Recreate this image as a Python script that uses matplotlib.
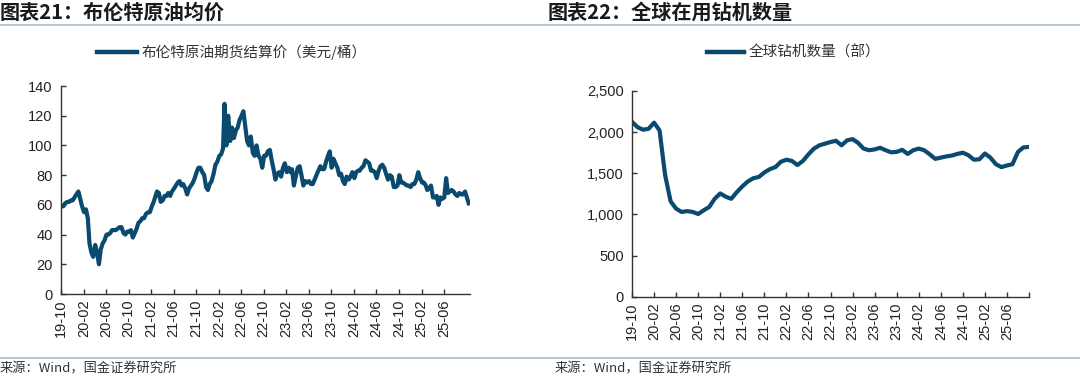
import matplotlib
import numpy as np
import pandas as pd

matplotlib.use("Agg")
import matplotlib.pyplot as plt
import matplotlib.dates as mdates
from matplotlib.lines import Line2D

plt.rcParams["font.family"] = ["Liberation Sans", "Noto Sans CJK SC"]
CJK = ["Noto Sans CJK SC", "DejaVu Sans"]

# 布伦特原油期货结算价（美元/桶），每月三个读数（约 3 日、13 日、23 日）
brent_start = "2019-10"
brent_values = [
    59, 59, 61, 62, 62, 63, 63, 65, 67,            # 2019-10 ~ 2019-12
    69, 64, 59, 55, 57, 51, 34, 28, 25,            # 2020-01 ~ 2020-03
    33, 28, 20, 30, 34, 36, 40, 40, 41,            # 2020-04 ~ 2020-06
    43, 43, 43, 44, 45, 45, 41, 40, 42,            # 2020-07 ~ 2020-09
    42, 43, 38, 41, 44, 48, 49, 51, 51,            # 2020-10 ~ 2020-12
    54, 55, 55, 59, 62, 66, 69, 68, 62,            # 2021-01 ~ 2021-03
    63, 66, 66, 68, 66, 69, 71, 73, 75,            # 2021-04 ~ 2021-06
    76, 73, 74, 71, 67, 71, 73, 75, 78,            # 2021-07 ~ 2021-09
    82, 85, 85, 82, 80, 72, 70, 74, 76,            # 2021-10 ~ 2021-12
    81, 87, 89, 93, 94, 98, 128, 100, 120,         # 2022-01 ~ 2022-03
    103, 112, 105, 110, 112, 117, 120, 123, 113,   # 2022-04 ~ 2022-06
    103, 100, 106, 95, 93, 100, 93, 91, 85,        # 2022-07 ~ 2022-09
    93, 93, 96, 97, 90, 84, 77, 81, 82,            # 2022-10 ~ 2022-12
    79, 85, 88, 82, 85, 82, 84, 73, 79,            # 2023-01 ~ 2023-03
    85, 86, 80, 73, 76, 75, 76, 74, 74,            # 2023-04 ~ 2023-06
    77, 80, 83, 86, 84, 84, 89, 93, 96,            # 2023-07 ~ 2023-09
    85, 91, 88, 85, 80, 81, 76, 74, 79,            # 2023-10 ~ 2023-12
    77, 79, 82, 78, 82, 83, 83, 85, 86,            # 2024-01 ~ 2024-03
    90, 89, 88, 83, 83, 82, 78, 83, 86,            # 2024-04 ~ 2024-06
    87, 85, 81, 77, 80, 79, 72, 72, 73,            # 2024-07 ~ 2024-09
    80, 75, 75, 74, 73, 73, 72, 74, 74,            # 2024-10 ~ 2024-12
    77, 82, 78, 75, 75, 73, 70, 71, 73,            # 2025-01 ~ 2025-03
    65, 65, 66, 60, 65, 64, 65, 78, 68,            # 2025-04 ~ 2025-06
    69, 70, 69, 67, 66, 68, 67, 67, 69,            # 2025-07 ~ 2025-09
    65, 61,                                        # 2025-10
]
brent_end = "2025-10-20"

# 全球在用钻机数量（部），月度
rig_start = "2019-10"
rig_counts = [
    2126, 2060, 2030, 2040, 2115, 2020, 1480, 1160, 1070, 1030,
    1040, 1030, 1005, 1050, 1090, 1190, 1255, 1215, 1190, 1270,
    1340, 1400, 1440, 1455, 1510, 1550, 1575, 1640, 1665, 1650,
    1600, 1650, 1730, 1800, 1840, 1860, 1880, 1895, 1840, 1900,
    1915, 1870, 1800, 1780, 1790, 1810, 1780, 1755, 1760, 1785,
    1735, 1780, 1800, 1780, 1730, 1675, 1690, 1705, 1715, 1735,
    1750, 1720, 1665, 1670, 1740, 1690, 1610, 1575, 1595, 1610,
    1760, 1815, 1820,
]

LINE = "#0B4A6F"
RULE = "#A9BCCC"
TXT = "#222222"

fig = plt.figure(figsize=(10.8, 3.79), dpi=100)

# 日期
months = pd.date_range(brent_start, periods=(len(brent_values) + 2) // 3, freq="MS")
brent_dates = []
for m in months:
    for d in (2, 12, 22):
        brent_dates.append(m + pd.Timedelta(days=d))
brent_dates = brent_dates[: len(brent_values)]
rig_months = pd.date_range(rig_start, periods=len(rig_counts), freq="MS")


def style_axes(ax):
    for side in ("top", "right"):
        ax.spines[side].set_visible(False)
    for side in ("left", "bottom"):
        ax.spines[side].set_color("#333333")
        ax.spines[side].set_linewidth(1.0)
    ax.tick_params(axis="both", direction="in", length=3.5, width=1.0,
                   color="#333333", labelsize=10.5, labelcolor=TXT)
    ax.tick_params(axis="x", labelrotation=90, pad=4)
    ax.tick_params(axis="y", pad=6)


# 左图：布伦特原油
ax1 = fig.add_axes([61 / 1080, 1 - 294 / 379, 409 / 1080, 208 / 379])
ax1.plot(brent_dates, brent_values, color=LINE, lw=3.0, solid_joinstyle="round")
ax1.set_ylim(0, 140)
ax1.set_yticks(np.arange(0, 141, 20))
ax1.set_xlim(pd.Timestamp(brent_start), pd.Timestamp(brent_end))
ax1.set_xticks(pd.date_range("2019-10-01", "2025-06-01", freq="4MS"))
ax1.xaxis.set_major_formatter(mdates.DateFormatter("%y-%m"))
style_axes(ax1)

# 右图：全球钻机
ax2 = fig.add_axes([632 / 1080, 1 - 296.7 / 379, 397 / 1080, 205.7 / 379])
x_idx = np.arange(len(rig_counts))
ax2.plot(x_idx, rig_counts, color=LINE, lw=3.0, solid_joinstyle="round",
         solid_capstyle="round")
ax2.set_ylim(0, 2500)
ax2.set_yticks(np.arange(0, 2501, 500))
ax2.yaxis.set_major_formatter(matplotlib.ticker.FuncFormatter(lambda v, p: f"{int(v):,}"))
ax2.set_xlim(0, len(rig_counts) - 1)
tick_idx = list(range(0, len(rig_counts), 4))
ax2.set_xticks(tick_idx)
ax2.set_xticklabels([rig_months[i].strftime("%y-%m") if i <= 68 else "" for i in tick_idx])
style_axes(ax2)

# 标题与分隔线
fig.text(0.0, 1 - 19 / 379, "图表21：布伦特原油均价", family=CJK, fontsize=14.5,
         fontweight="bold", fontstyle="italic", color="#1A1A1A", va="baseline")
fig.text(548 / 1080, 1 - 19 / 379, "图表22：全球在用钻机数量", family=CJK, fontsize=14.5,
         fontweight="bold", fontstyle="italic", color="#1A1A1A", va="baseline")
fig.add_artist(Line2D([0, 1], [1 - 25 / 379] * 2, color=RULE, lw=1.2))
fig.add_artist(Line2D([0, 1], [1 - 358 / 379] * 2, color=RULE, lw=1.2))

# 图例
fig.add_artist(Line2D([97 / 1080, 137 / 1080], [1 - 52 / 379] * 2, color=LINE, lw=3.2))
fig.text(142 / 1080, 1 - 52 / 379, "布伦特原油期货结算价（美元/桶）", family=CJK,
         fontsize=10.5, color="#333333", va="center")
fig.add_artist(Line2D([707 / 1080, 744 / 1080], [1 - 52 / 379] * 2, color=LINE, lw=3.2))
fig.text(749 / 1080, 1 - 52 / 379, "全球钻机数量（部）", family=CJK,
         fontsize=10.5, color="#333333", va="center")

# 来源
fig.text(0.0, 1 - 369 / 379, "来源：Wind，国金证券研究所", family=CJK, fontsize=9.5,
         color="#333333", va="center")
fig.text(555 / 1080, 1 - 369 / 379, "来源：Wind，国金证券研究所", family=CJK, fontsize=9.5,
         color="#333333", va="center")

fig.savefig("out.png", dpi=100)
plt.close(fig)
